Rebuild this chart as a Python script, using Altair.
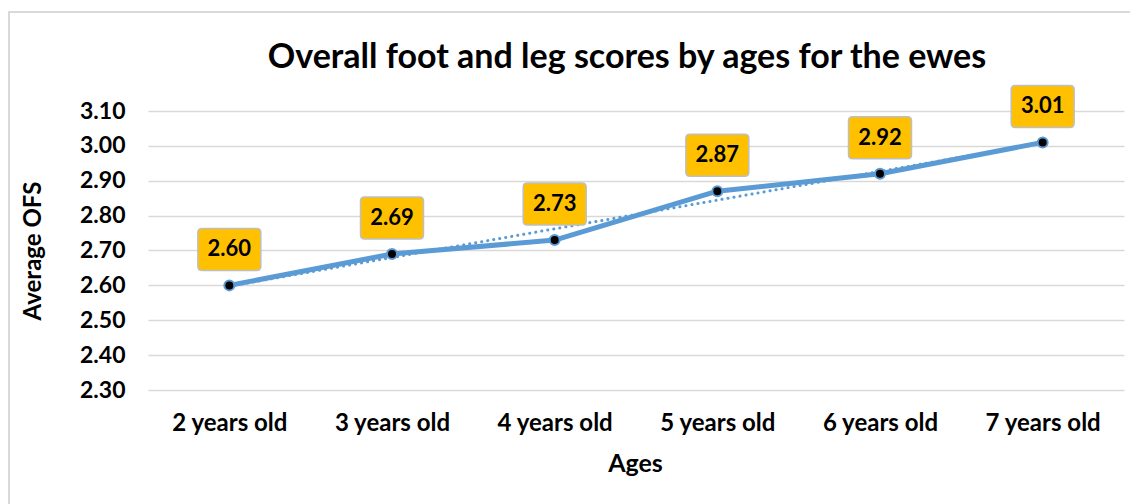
import altair as alt
import pandas as pd

categories = ["2 years old", "3 years old", "4 years old", "5 years old", "6 years old", "7 years old"]
values = [2.60, 2.69, 2.73, 2.87, 2.92, 3.01]
y_ticks = [2.30, 2.40, 2.50, 2.60, 2.70, 2.80, 2.90, 3.00, 3.10]
title_text = "Overall foot and leg scores by ages for the ewes"

df = pd.DataFrame({"idx": list(range(1, len(categories) + 1)), "cat": categories, "v": values})

FONT = "Lato"
BLUE = "#5B9BD5"
label_expr = "[" + ",".join("'%s'" % c for c in categories) + "][datum.value - 1]"

x_enc = alt.X(
    "idx:Q",
    scale=alt.Scale(domain=[0.5, len(categories) + 0.5], nice=False, zero=False),
    axis=alt.Axis(
        values=list(range(1, len(categories) + 1)),
        tickCount=20,
        labelExpr=label_expr,
        title="Ages",
        grid=False,
        domain=False,
        ticks=False,
        labelFont=FONT,
        labelFontWeight="bold",
        labelFontSize=24,
        labelColor="black",
        labelPadding=21,
        labelOverlap=False,
        titleFont=FONT,
        titleFontWeight="bold",
        titleFontSize=25,
        titleColor="black",
        titleX=487,
        titleY=73,
        titleBaseline="middle",
    ),
)
y_enc = alt.Y(
    "v:Q",
    scale=alt.Scale(domain=[2.3, 3.1], nice=False, zero=False),
    axis=alt.Axis(
        values=y_ticks,
        tickCount=20,
        format=".2f",
        title="Average OFS",
        grid=True,
        gridColor="#D9D9D9",
        gridWidth=1.5,
        domain=False,
        ticks=False,
        labelFont=FONT,
        labelFontWeight="bold",
        labelFontSize=23,
        labelColor="black",
        labelPadding=23,
        labelOverlap=False,
        titleFont=FONT,
        titleFontWeight="bold",
        titleFontSize=24,
        titleColor="black",
        titleAngle=-90,
        titleX=-115,
        titleY=139.5,
        titleBaseline="middle",
        titleAlign="center",
    ),
)

base = alt.Chart(df)

frame = alt.Chart(pd.DataFrame({"a": [0]})).mark_rect(
    fill="white", fillOpacity=0, stroke="#D9D9D9", strokeWidth=2
).encode(x=alt.value(-139), x2=alt.value(1200), y=alt.value(-99), y2=alt.value(600))

title = alt.Chart(pd.DataFrame({"t": [title_text]})).mark_text(
    font=FONT, fontSize=34, fontWeight="bold", color="black", align="center", baseline="alphabetic"
).encode(x=alt.value(479), y=alt.value(-43), text="t:N")

line = base.mark_line(color=BLUE, strokeWidth=5, strokeCap="round", strokeJoin="round").encode(x=x_enc, y=y_enc)

trend = base.transform_regression("idx", "v").mark_line(
    color=BLUE, strokeWidth=3, strokeDash=[0.1, 6], strokeCap="round"
).encode(x="idx:Q", y="v:Q")

points = base.mark_point(
    filled=True, fill="black", stroke=BLUE, strokeWidth=2, size=100, opacity=1, shape="circle"
).encode(x="idx:Q", y="v:Q")

box_path = ("M -1.3,-1 L 1.3,-1 Q 1.5,-1 1.5,-0.8 L 1.5,0.8 Q 1.5,1 1.3,1 "
            "L -1.3,1 Q -1.5,1 -1.5,0.8 L -1.5,-0.8 Q -1.5,-1 -1.3,-1 Z")
boxes = base.mark_point(
    shape=box_path, filled=True, fill="#FFC000", stroke="#BFBFBF", strokeWidth=1.5,
    size=1764, opacity=1, yOffset=-36
).encode(x="idx:Q", y="v:Q")

texts = base.mark_text(
    font=FONT, fontWeight="bold", fontSize=22, color="black", baseline="middle", align="center", yOffset=-36
).encode(x="idx:Q", y="v:Q", text=alt.Text("v:Q", format=".2f"))

chart = alt.layer(frame, title, line, trend, points, boxes, texts).properties(
    width=976,
    height=279,
    autosize=alt.AutoSizeParams(type="none"),
    padding={"left": 140, "top": 103, "right": 6, "bottom": 114},
).configure_view(stroke=None)

chart.save("out.html", embed_options={"renderer": "svg", "actions": False})
